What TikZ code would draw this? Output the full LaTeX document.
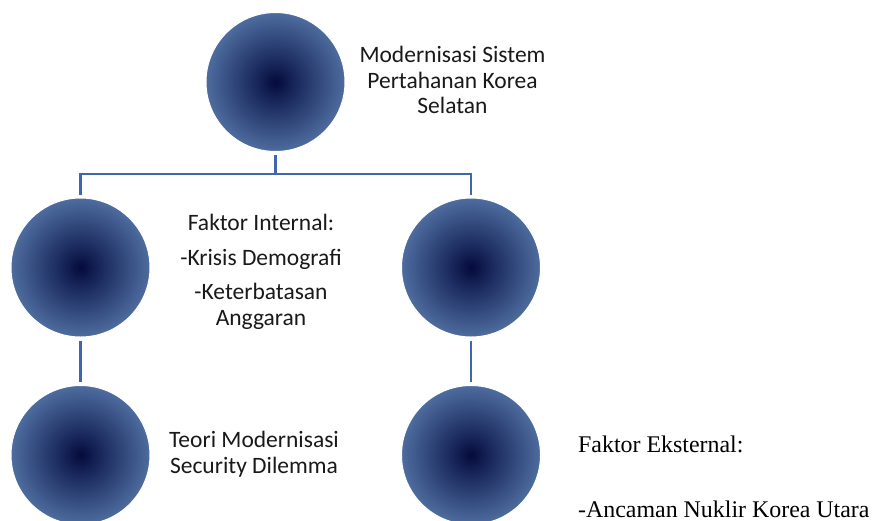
\documentclass[tikz,border=0pt]{standalone}
\usepackage{fontspec}
\setmainfont{Carlito}
\newfontfamily\timesf{Liberation Serif}
\definecolor{ballin}{HTML}{050A3C}
\definecolor{ballmid}{HTML}{1E2F63}
\definecolor{ballout}{HTML}{4E6C9F}
\definecolor{linec}{HTML}{3F66AE}
\pgfdeclareradialshading{ballshade}{\pgfpoint{0bp}{0bp}}{color(0bp)=(ballin); color(9bp)=(ballmid); color(25bp)=(ballout); color(50bp)=(ballout)}
\begin{document}
\begin{tikzpicture}[x=1pt,y=-1pt,
  ball/.style={circle, minimum size=139pt, inner sep=0pt, shading=ballshade, draw=white, line width=1pt},
  conn/.style={draw=linec, line width=2.6pt},
  lbl/.style={font=\fontsize{23.5}{25.5}\selectfont, align=center, inner sep=0pt, text=black!90},
  ext/.style={font=\timesf\fontsize{23.9}{27}\selectfont, align=left, inner sep=0pt, text=black}]
\useasboundingbox (0,0) rectangle (872,520);
\clip (0,0) rectangle (872,520);
\node[ball] (top) at (275.5,82) {};
\node[ball] (l1) at (80.5,267.5) {};
\node[ball] (r1) at (471,267.5) {};
\node[ball] (l2) at (80.5,455) {};
\node[ball] (r2) at (471,455) {};
\coordinate (bus) at (276,174);
\draw[conn] ([yshift=-3pt]top.south) -- (top.south |- bus) -| ([yshift=3pt]l1.north);
\draw[conn] (top.south |- bus) -| ([yshift=3pt]r1.north);
\draw[conn] ([yshift=-3pt]l1.south) -- ([yshift=3pt]l2.north);
\draw[conn] ([yshift=-3pt]r1.south) -- ([yshift=3pt]r2.north);
\node[lbl] (tt) at (452.5,80) {Modernisasi Sistem\\Pertahanan Korea\\Selatan};
\node[lbl] (it) at (261,272) {Faktor Internal:\\[9.5pt]-Krisis Demografi\\[8.5pt]-Keterbatasan\\Anggaran};
\node[lbl] (te) at (254,454) {Teori Modernisasi\\Security Dilemma};
\node[ext, anchor=west] (et) at (578,477) {Faktor Eksternal:\\[38pt]-Ancaman Nuklir Korea Utara};
\end{tikzpicture}
\end{document}
